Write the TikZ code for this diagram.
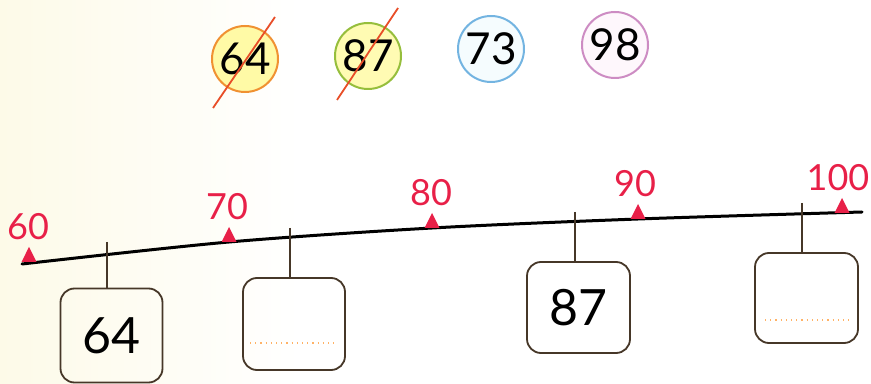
\documentclass[tikz,border=0pt]{standalone}
\usepackage{fontspec}
\setmainfont{Lato}
\definecolor{numred}{RGB}{232,32,72}
\definecolor{boxline}{RGB}{70,55,40}
\definecolor{slashred}{RGB}{232,78,40}
\definecolor{cream}{RGB}{253,250,232}
\definecolor{ringorange}{RGB}{240,145,50}
\definecolor{ringgreen}{RGB}{150,190,60}
\definecolor{ringblue}{RGB}{115,180,225}
\definecolor{ringpink}{RGB}{205,140,195}
\tikzset{
	ball/.style={circle,draw,line width=1pt,minimum size=33pt,inner sep=0pt,font=\fontsize{22}{22}\selectfont},
	answer/.style={draw=boxline,line width=0.9pt,rounded corners=7pt,inner sep=0pt,font=\fontsize{25}{25}\selectfont},
	hanger/.style={draw=boxline,line width=0.7pt},
	mark label/.style={text=numred,font=\fontsize{18}{18}\selectfont},
	blankline/.style={draw=orange!60,line width=0.6pt,dotted}
}
\begin{document}
\begin{tikzpicture}[x=0.5pt,y=-0.5pt]
	\useasboundingbox (0,0) rectangle (871,384);
	\shade[left color=cream,right color=white] (0,0) rectangle (300,384);
	\node[ball,draw=ringorange,fill=yellow!35] (c64) at (245,59) {64};
	\node[ball,draw=ringgreen,fill=yellow!30] (c87) at (368,56) {87};
	\node[ball,draw=ringblue,fill=cyan!4] (c73) at (491,49) {73};
	\node[ball,draw=ringpink,fill=magenta!3] (c98) at (615,45) {98};
	\draw[slashred,line width=0.9pt] (213,108) -- (275,17);
	\draw[slashred,line width=0.9pt] (337,100) -- (398,8);
	\draw[line width=1.5pt,line cap=round] plot[smooth] coordinates {(22,264) (229,242) (432,228) (638,219) (862,212)};
	\foreach \x/\y/\v/\lx in {29/262/60/28, 229/242/70/227, 432/228/80/431, 638/219/90/635, 842/213/100/838} {
		\fill[numred] (\x-7.5,\y) -- (\x,\y-15) -- (\x+7.5,\y) -- cycle;
		\path (\lx,\y-35) node[mark label] (m\v) {\v};
	}
	\node[answer,minimum width=51pt,minimum height=47pt] (b1) at (111.5,335.5) {64};
	\node[answer,minimum width=51pt,minimum height=46pt] (b2) at (294,324) {};
	\node[answer,minimum width=51.5pt,minimum height=45.5pt] (b3) at (578.5,307.5) {87};
	\node[answer,minimum width=51.5pt,minimum height=45pt] (b4) at (806.5,298) {};
	\coordinate (h1) at (107,242);
	\coordinate (h2) at (290,228);
	\coordinate (h3) at (575,212);
	\coordinate (h4) at (802,203);
	\foreach \i in {1,...,4} {
		\draw[hanger] (h\i) -- (h\i |- b\i.north);
	}
	\draw[blankline] (250,343) -- (338,343);
	\draw[blankline] (765,320) -- (850,320);
\end{tikzpicture}
\end{document}
